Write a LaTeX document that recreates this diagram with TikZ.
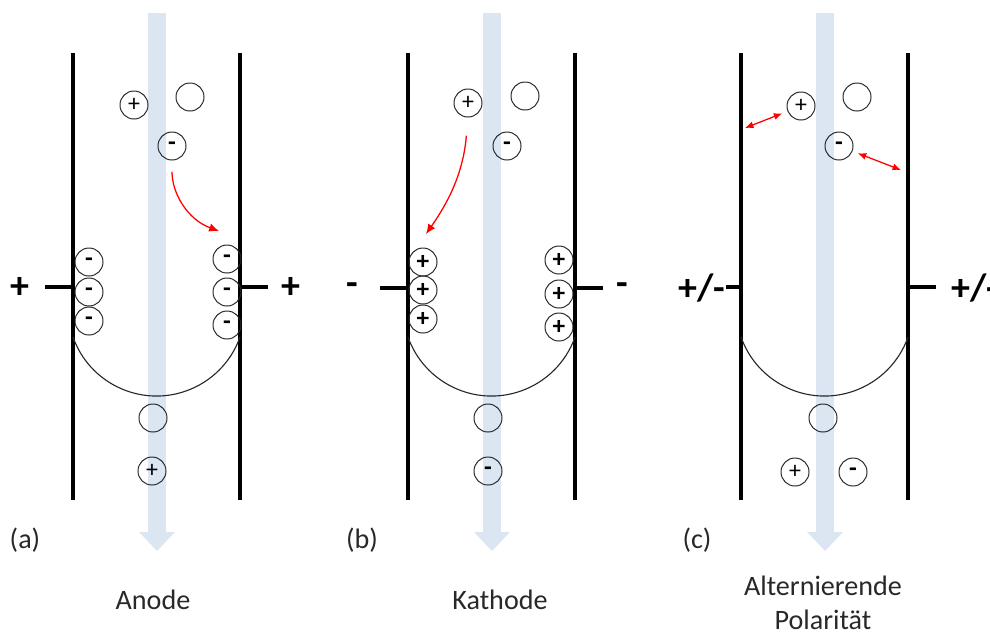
\documentclass[tikz,border=0pt]{standalone}
\usepackage{fontspec}
\setmainfont{Carlito}
\usetikzlibrary{arrows.meta}

\definecolor{bandblue}{RGB}{220,230,242}
\definecolor{inkgrey}{RGB}{40,40,40}

\tikzset{
  charge/.style={circle, draw=inkgrey, line width=0.7pt, minimum size=0.7cm, inner sep=0pt, font=\fontsize{17}{17}\selectfont},
  boldcharge/.style={charge, font=\fontsize{18}{18}\selectfont\bfseries},
  wall/.style={line width=2.2pt},
  pole/.style={font=\fontsize{27}{27}\selectfont\bfseries},
  caption/.style={font=\fontsize{20}{24}\selectfont, text=inkgrey, align=center},
  drift/.style={red, line width=0.9pt, -{Latex[length=7pt,width=6pt]}},
  swing/.style={red, line width=0.9pt, {Latex[length=6pt,width=5pt]}-{Latex[length=6pt,width=5pt]}}
}

\begin{document}
\begin{tikzpicture}[x=0.025cm, y=0.025cm]
        \useasboundingbox (0,0) rectangle (990,-634);

        % Flow band, walls and meniscus of the three panels
        \foreach \dx in {0,335,668} {
          \fill[bandblue] (148+\dx,-13) rectangle (166+\dx,-533);
          \fill[bandblue] (139+\dx,-532) -- (175+\dx,-532) -- (157+\dx,-551) -- cycle;
          \draw[wall] (73+\dx,-53) -- (73+\dx,-500);
          \draw[wall] (240+\dx,-53) -- (240+\dx,-500);
          \draw[inkgrey, line width=0.8pt] (73+\dx,-337) arc[start angle=199.5, end angle=340.5, radius=88.6];
        }

        % Panel (a): Anode
        \draw[wall] (45,-287) -- (73,-287);
        \draw[wall] (240,-287) -- (268,-287);
        \node[pole] (aPolL) at (20,-288) {+};
        \node[pole] (aPolR) at (291,-288) {+};

        \node[charge] (aPlus) at (134,-105) {+};
        \node[charge] (aNeut) at (190,-97) {};
        \node[boldcharge] (aMinus) at (172,-146) {-};
        \coordinate (aHit) at (219,-231);
        \draw[drift, shorten <=8pt] (aMinus.south) to[out=-90, in=160] (aHit);

        \node[boldcharge] (aL1) at (89,-262) {-};
        \node[boldcharge] (aL2) at (89,-292) {-};
        \node[boldcharge] (aL3) at (89,-321) {-};
        \node[boldcharge] (aR1) at (227,-259) {-};
        \node[boldcharge] (aR2) at (227,-292) {-};
        \node[boldcharge] (aR3) at (227,-325) {-};

        \node[charge] (aOut) at (153,-418) {};
        \node[charge] (aOutPlus) at (152,-471) {+};

        \node[caption] (aTag) at (25,-540) {(a)};
        \node[caption] (aName) at (153,-600) {Anode};

        % Panel (b): Kathode
        \draw[wall] (380,-288) -- (408,-288);
        \draw[wall] (575,-288) -- (603,-288);
        \node[pole] (bPolL) at (352,-289) {-};
        \node[pole] (bPolR) at (622,-289) {-};

        \node[charge] (bPlus) at (468,-103) {+};
        \node[charge] (bNeut) at (525,-96) {};
        \node[boldcharge] (bMinus) at (507,-146) {-};
        \coordinate (bHit) at (426,-234);
        \draw[drift, shorten <=13pt] (bPlus.south) to[out=-95, in=55] (bHit);

        \node[boldcharge] (bL1) at (423,-262) {+};
        \node[boldcharge] (bL2) at (423,-290) {+};
        \node[boldcharge] (bL3) at (423,-319) {+};
        \node[boldcharge] (bR1) at (559,-260) {+};
        \node[boldcharge] (bR2) at (559,-294) {+};
        \node[boldcharge] (bR3) at (559,-327) {+};

        \node[charge] (bOut) at (488,-418) {};
        \node[boldcharge] (bOutMinus) at (488,-471) {-};

        \node[caption] (bTag) at (362,-540) {(b)};
        \node[caption] (bName) at (500,-600) {Kathode};

        % Panel (c): Alternierende Polaritaet
        \draw[wall] (726,-287) -- (741,-287);
        \draw[wall] (908,-287) -- (936,-287);
        \node[pole] (cPolL) at (702,-288) {+/-};
        \node[pole] (cPolR) at (975,-288) {+/-};

        \node[charge] (cPlus) at (801,-106) {+};
        \node[charge] (cNeut) at (857,-97) {};
        \node[boldcharge] (cMinus) at (839,-146) {-};
        \coordinate (cWallL) at (745,-128);
        \coordinate (cWallR) at (901,-170);
        \draw[swing, shorten <=4pt] (cPlus) -- (cWallL);
        \draw[swing, shorten <=4pt] (cMinus) -- (cWallR);

        \node[charge] (cOut) at (823,-418) {};
        \node[charge] (cOutPlus) at (795,-472) {+};
        \node[boldcharge] (cOutMinus) at (853,-472) {-};

        \node[caption] (cTag) at (697,-540) {(c)};
        \node[caption] (cName) at (823,-603) {Alternierende\\Polarität};

    \end{tikzpicture}
\end{document}
